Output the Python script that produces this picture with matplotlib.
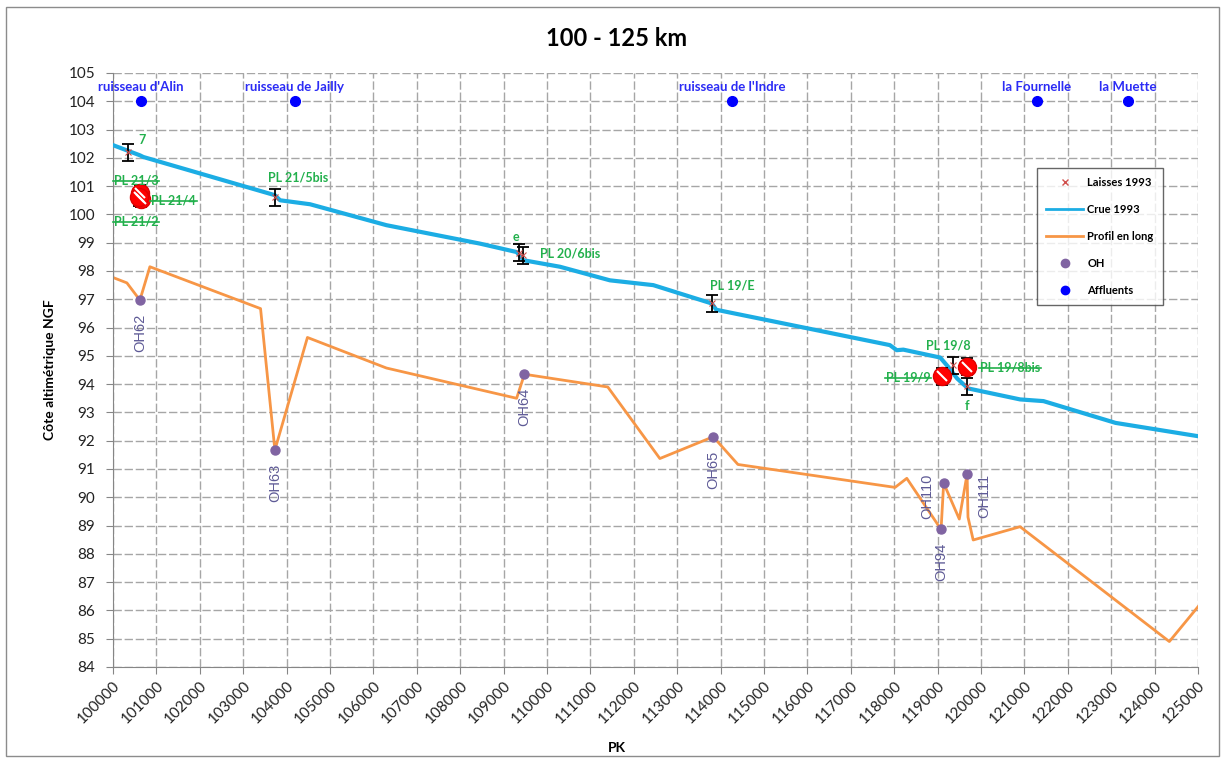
import matplotlib.pyplot as plt
from matplotlib.lines import Line2D
from matplotlib.markers import MarkerStyle
from matplotlib.patches import Rectangle
from matplotlib.transforms import Affine2D

# Crue 1993 (ligne d'eau)
crue_pk = [100000, 100620, 100700, 103730, 103850, 104540, 106300, 108450,
           109300, 109460, 110300, 111450, 112450, 113800, 113900, 117900,
           118060, 118210, 119060, 119250, 119450, 119700, 120900, 121440,
           123100, 125000]
crue_z = [102.45, 102.09, 102.03, 100.68, 100.5, 100.36, 99.62, 98.97,
          98.67, 98.38, 98.15, 97.67, 97.5, 96.85, 96.63, 95.38,
          95.2, 95.22, 94.94, 94.6, 94.2, 93.85, 93.46, 93.4,
          92.63, 92.16]

# Profil en long (fond)
profil_pk = [100000, 100320, 100620, 100850, 103400, 103730, 104480, 106300,
             109300, 109480, 111400, 112600, 113830, 114400, 118020, 118290,
             119020, 119080, 119140, 119500, 119680, 119700, 119820, 120900,
             124340, 125000]
profil_z = [97.77, 97.58, 96.97, 98.15, 96.67, 91.67, 95.65, 94.57,
            93.5, 94.35, 93.9, 91.37, 92.14, 91.16, 90.35, 90.67,
            89.0, 88.87, 90.5, 89.23, 90.82, 89.3, 88.49, 88.96,
            84.9, 86.13]

# ouvrages hydrauliques
oh_names = ['OH62', 'OH63', 'OH64', 'OH65', 'OH94', 'OH110', 'OH111']
oh_pk = [100620, 103730, 109480, 113830, 119080, 119140, 119680]
oh_z = [96.97, 91.67, 94.35, 92.14, 88.87, 90.5, 90.82]

# affluents
aff_names = ["ruisseau d'Alin", 'ruisseau de Jailly', "ruisseau de l'Indre",
             'la Fournelle', 'la Muette']
aff_pk = [100645, 104190, 114260, 121290, 123390]
aff_z = [104, 104, 104, 104, 104]

# laisses 1993
laisse_names = ['7', 'PL 21/3', 'PL 21/4', 'PL 21/2', 'PL 21/5bis', 'e',
                'PL 20/6bis', 'PL 19/E', 'PL 19/9', 'PL 19/8', 'f', 'PL 19/8bis']
laisse_pk = [100350, 100620, 100640, 100600, 103730, 109350,
             109450, 113800, 119100, 119350, 119670, 119670]
laisse_z = [102.2, 100.75, 100.55, 100.6, 100.6, 98.65,
            98.55, 96.86, 94.28, 94.67, 93.93, 94.61]
laisse_err = 0.3
laisse_rejected = ['PL 21/3', 'PL 21/4', 'PL 21/2', 'PL 19/9', 'PL 19/8bis']

# decalage des etiquettes (pixels)
laisse_offsets = {'7': (14, 12), 'PL 21/3': (-4, 13), 'PL 21/4': (33, -2),
                  'PL 21/2': (-3, -24), 'PL 21/5bis': (23, 20), 'e': (-3, 16),
                  'PL 20/6bis': (47, 2), 'PL 19/E': (20, 18), 'PL 19/9': (-34, -1),
                  'PL 19/8': (-4, 20), 'f': (0, -20), 'PL 19/8bis': (43, -1)}

c_crue = '#1CADE4'
c_profil = '#F79646'
c_oh = '#8064A2'
c_aff = '#0000FF'
c_green = '#22B04C'

plt.rcParams['font.family'] = ['Lato', 'DejaVu Sans']

fig = plt.figure(figsize=(12.25, 7.6), dpi=100)
fig.patches.append(Rectangle((6 / 1225, 4 / 760), 1213 / 1225, 749 / 760,
                             transform=fig.transFigure, fill=False,
                             edgecolor='#8C8C8C', linewidth=1))
ax = fig.add_axes([113 / 1225, 1 - 667 / 760, 1085 / 1225, 594 / 760])

ax.set_xlim(100000, 125000)
ax.set_ylim(84, 105)
ax.set_xticks(range(100000, 125001, 1000))
ax.set_yticks(range(84, 106))
ax.grid(True, color='#A6A6A6', linestyle=(0, (6, 2)), linewidth=1)
ax.set_axisbelow(True)
for s in ['top', 'right']:
    ax.spines[s].set_visible(False)
for s in ['left', 'bottom']:
    ax.spines[s].set_color('#868686')
ax.tick_params(axis='both', direction='out', length=5, color='#868686',
               labelsize=11, labelcolor='#222222')
plt.setp(ax.get_xticklabels(), rotation=45, ha='right', rotation_mode='anchor')
ax.tick_params(axis='y', pad=8)

ax.plot(profil_pk, profil_z, color=c_profil, linewidth=2, zorder=2)
ax.plot(crue_pk, crue_z, color=c_crue, linewidth=3, zorder=3)
ax.plot(oh_pk, oh_z, 'o', color=c_oh, markersize=6.5, zorder=4)
ax.plot(aff_pk, aff_z, 'o', color=c_aff, markersize=7, zorder=4)

ax.errorbar(laisse_pk, laisse_z, yerr=laisse_err, fmt='none', ecolor='black',
            elinewidth=1.3, capsize=4, capthick=1.3, zorder=5)
ax.plot(laisse_pk, laisse_z, 'x', color='#D0504D', markersize=5,
        markeredgewidth=0.8, zorder=6)

# laisses ecartees
rej_pk = [laisse_pk[laisse_names.index(n)] for n in laisse_rejected]
rej_z = [laisse_z[laisse_names.index(n)] for n in laisse_rejected]
slash = MarkerStyle('|', transform=Affine2D().rotate_deg(45))
ax.plot(rej_pk, rej_z, 'o', color='#FF0000', markeredgecolor='#E00000',
        markersize=13, zorder=7)
ax.plot(rej_pk, rej_z, linestyle='none', marker=slash, color='white',
        markersize=10, markeredgewidth=1.5, zorder=8)

struck = []
for name, x, y in zip(laisse_names, laisse_pk, laisse_z):
    t = ax.annotate(name, (x, y), xytext=laisse_offsets[name],
                    textcoords='offset pixels', ha='center', va='center',
                    fontsize=9, fontweight='bold', color=c_green, zorder=9)
    if name in laisse_rejected:
        struck.append(t)

for name, x, y in zip(oh_names, oh_pk, oh_z):
    if name == 'OH110':
        off, ha, va = (-9, -13), 'right', 'center'
    elif name == 'OH111':
        off, ha, va = (10, -22), 'left', 'center'
    else:
        off, ha, va = (0, -14), 'center', 'top'
    ax.annotate(name, (x, y), xytext=off, textcoords='offset pixels',
                rotation=90, ha=ha, va=va, fontsize=10.5, color='#5E5A96',
                family=['Liberation Sans', 'DejaVu Sans'])

for name, x, y in zip(aff_names, aff_pk, aff_z):
    ax.annotate(name, (x, y), xytext=(0, 14), textcoords='offset pixels',
                ha='center', va='center', fontsize=9.5, fontweight='bold',
                color='#2B2BF5')

fig.text(617 / 1225, 1 - 38 / 760, '100 - 125 km', fontsize=17,
         fontweight='bold', ha='center', va='center')
fig.text(617 / 1225, 1 - 748 / 760, 'PK', fontsize=10, fontweight='bold',
         ha='center', va='center')
fig.text(50 / 1225, 1 - 370 / 760, 'Côte altimétrique NGF', fontsize=10,
         fontweight='bold', ha='center', va='center', rotation=90)

handles = [
    Line2D([], [], linestyle='none', marker='x', color='#D0504D', markersize=5),
    Line2D([], [], color=c_crue, linewidth=2),
    Line2D([], [], color=c_profil, linewidth=2),
    Line2D([], [], linestyle='none', marker='o', color=c_oh, markersize=6),
    Line2D([], [], linestyle='none', marker='o', color=c_aff, markersize=6),
]
labels = ['Laisses 1993', 'Crue 1993', 'Profil en long', 'OH', 'Affluents']
leg = ax.legend(handles, labels, loc='upper left', bbox_to_anchor=(0.852, 0.84),
                frameon=True, fancybox=False, edgecolor='#404040',
                prop={'size': 8, 'weight': 'bold'}, labelspacing=1.45,
                handlelength=3.3, borderpad=0.8, handletextpad=0.4,
                borderaxespad=0)
leg.get_frame().set_linewidth(1)
leg.set_zorder(10)

# texte barre pour les laisses ecartees
fig.canvas.draw()
r = fig.canvas.get_renderer()
inv = fig.transFigure.inverted()
for t in struck:
    bb = t.get_window_extent(r)
    ym = (bb.y0 + bb.y1) / 2 - 0.5
    (x0, y0), (x1, y1) = inv.transform([(bb.x0 - 1, ym), (bb.x1 + 1, ym)])
    fig.add_artist(Line2D([x0, x1], [y0, y1], color=c_green, linewidth=1.2,
                          transform=fig.transFigure, zorder=10))

fig.savefig('out.png', dpi=100)
